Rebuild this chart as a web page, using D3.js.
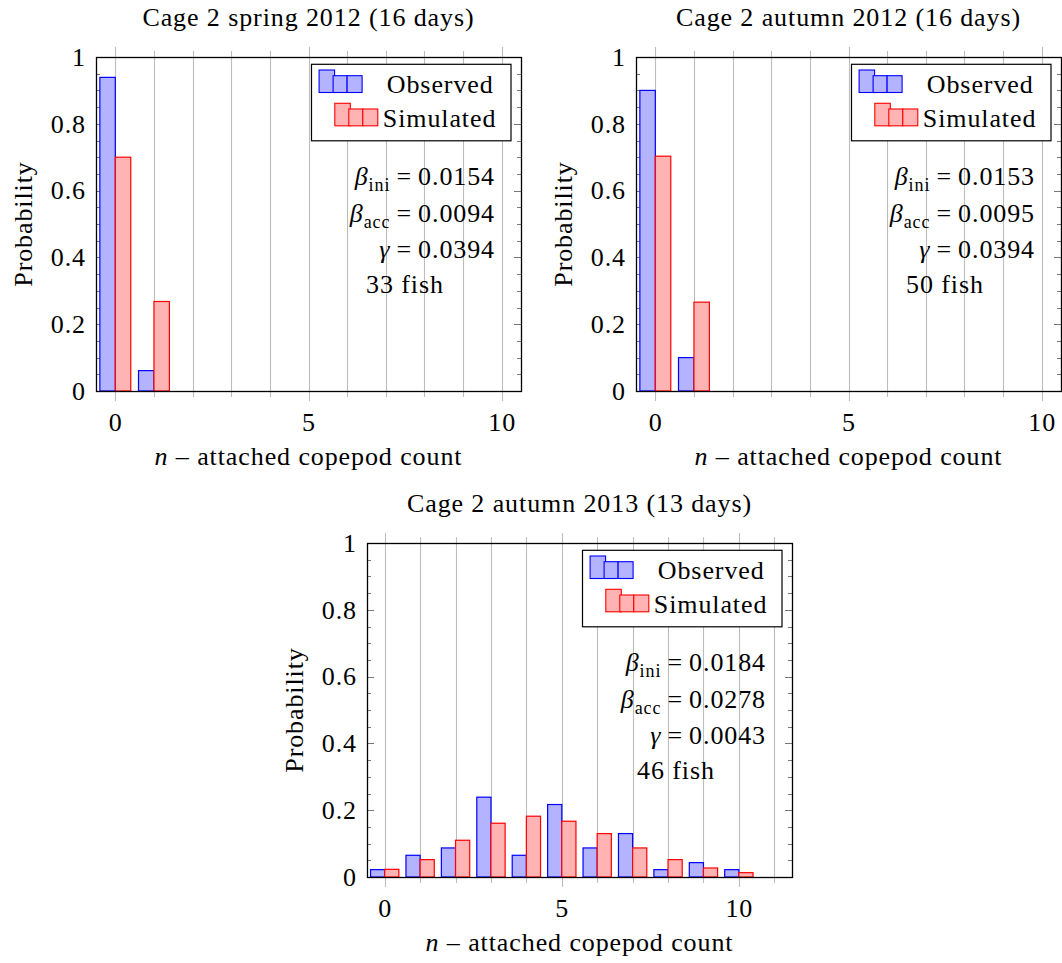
<!DOCTYPE html>
<html><head><meta charset="utf-8">
<script src="https://cdn.jsdelivr.net/npm/d3@7"></script>
<style>
body{margin:0;background:#fff}
text{font-family:"Liberation Serif","Times New Roman",serif;fill:#000;letter-spacing:0.9px}
</style>
</head><body>
<svg id="c" width="1062" height="963"></svg>
<script>
// ---- data ----
const panelTitles = ["Cage 2 spring 2012 (16 days)", "Cage 2 autumn 2012 (16 days)", "Cage 2 autumn 2013 (13 days)"];
const countsA = [0, 1];
const observedA = [0.939, 0.061];
const simulatedA = [0.700, 0.268];
const countsB = [0, 1];
const observedB = [0.900, 0.100];
const simulatedB = [0.703, 0.266];
const countsC = [0, 1, 2, 3, 4, 5, 6, 7, 8, 9, 10];
const observedC = [0.022, 0.065, 0.087, 0.239, 0.065, 0.217, 0.087, 0.130, 0.022, 0.043, 0.022];
const simulatedC = [0.023, 0.052, 0.110, 0.161, 0.182, 0.167, 0.130, 0.087, 0.052, 0.027, 0.013];
const xMaxes = [10, 10, 11];
const betaIni = ["0.0154", "0.0153", "0.0184"];
const betaAcc = ["0.0094", "0.0095", "0.0278"];
const gammaVals = ["0.0394", "0.0394", "0.0043"];
const fishCounts = [33, 50, 46];
const xTickLabels = [0, 5, 10];
const yTickLabels = [0, 0.2, 0.4, 0.6, 0.8, 1];
const seriesNames = ["Observed", "Simulated"];
const xLabel = "attached copepod count";
const yLabel = "Probability";

// ---- layout ----
const W = 425, H = 334, FS = 26;
const panels = [
  {L: 96, T: 57, counts: countsA, obs: observedA, sim: simulatedA},
  {L: 636, T: 57, counts: countsB, obs: observedB, sim: simulatedB},
  {L: 367, T: 543, counts: countsC, obs: observedC, sim: simulatedC}
];
const obsFill = "#b3b3ff", obsStroke = "#0000ff";
const simFill = "#ffb3b3", simStroke = "#ff0000";
const svg = d3.select("#c");

panels.forEach((p, i) => {
  const {L, T} = p;
  const xMax = xMaxes[i];
  const x = d3.scaleLinear().domain([-0.5, xMax + 0.5]).range([L, L + W]);
  const y = d3.scaleLinear().domain([0, 1]).range([T + H, T]);
  const g = svg.append("g");

  // vertical grid + outside x ticks (top & bottom)
  g.selectAll("line.grid").data(d3.range(0, xMax + 1)).join("line")
    .attr("x1", d => Math.round(x(d)) + 0.5).attr("x2", d => Math.round(x(d)) + 0.5)
    .attr("y1", d => T - (d % 5 === 0 ? 10 : 6))
    .attr("y2", d => T + H + (d % 5 === 0 ? 10 : 6))
    .attr("stroke", "#bdbdbd").attr("stroke-width", 1.1);

  // y ticks inside, both sides
  const yt = d3.range(1, 20).map(k => k * 0.05);
  const tlen = v => (Math.abs(v / 0.2 - Math.round(v / 0.2)) < 1e-6 ? 7 : 4);
  g.selectAll("line.yl").data(yt).join("line")
    .attr("x1", L).attr("x2", v => L + tlen(v))
    .attr("y1", v => Math.round(y(v)) + 0.5).attr("y2", v => Math.round(y(v)) + 0.5)
    .attr("stroke", "#777").attr("stroke-width", 1);
  g.selectAll("line.yr").data(yt).join("line")
    .attr("x1", L + W).attr("x2", v => L + W - tlen(v))
    .attr("y1", v => Math.round(y(v)) + 0.5).attr("y2", v => Math.round(y(v)) + 0.5)
    .attr("stroke", "#777").attr("stroke-width", 1);

  // bars
  const bw = 0.4;
  g.selectAll("rect.obs").data(p.counts).join("rect")
    .attr("x", (d) => x(d - bw)).attr("width", d => x(d) - x(d - bw))
    .attr("y", (d, k) => y(p.obs[k])).attr("height", (d, k) => y(0) - y(p.obs[k]))
    .attr("fill", obsFill).attr("stroke", obsStroke).attr("stroke-width", 1.2);
  g.selectAll("rect.sim").data(p.counts).join("rect")
    .attr("x", (d) => x(d)).attr("width", d => x(d + bw) - x(d))
    .attr("y", (d, k) => y(p.sim[k])).attr("height", (d, k) => y(0) - y(p.sim[k]))
    .attr("fill", simFill).attr("stroke", simStroke).attr("stroke-width", 1.2);

  // frame
  g.append("rect").attr("x", L + 0.5).attr("y", T + 0.5).attr("width", W).attr("height", H)
    .attr("fill", "none").attr("stroke", "#000").attr("stroke-width", 1.3);

  // axes labels via d3 axes
  const ax = g.append("g").attr("transform", `translate(0,${T + H})`)
    .call(d3.axisBottom(x).tickValues(xTickLabels).tickSize(0).tickPadding(22).tickFormat(d3.format("d")));
  ax.attr("font-family", null).attr("font-size", null);
  ax.select(".domain").remove();
  ax.selectAll("text").attr("font-size", FS).attr("fill", "#000");
  const ay = g.append("g").attr("transform", `translate(${L},0)`)
    .call(d3.axisLeft(y).tickValues(yTickLabels).tickSize(0).tickPadding(10).tickFormat(d3.format("~g")));
  ay.attr("font-family", null).attr("font-size", null);
  ay.select(".domain").remove();
  ay.selectAll("text").attr("font-size", FS).attr("fill", "#000");

  // title
  g.append("text").attr("x", L + W / 2).attr("y", T - 31).attr("text-anchor", "middle")
    .attr("font-size", FS).text(panelTitles[i]);
  // x label
  const xl = g.append("text").attr("x", L + W / 2).attr("y", T + H + 74).attr("text-anchor", "middle")
    .attr("font-size", FS);
  xl.append("tspan").attr("font-style", "italic").text("n");
  xl.append("tspan").text(" \u2013 " + xLabel);
  // y label
  g.append("text").attr("transform", `translate(${L - 64},${T + H / 2}) rotate(-90)`)
    .attr("text-anchor", "middle").attr("font-size", FS).text(yLabel);

  // legend
  const lx = L + 215.5, ly = T + 7.3;
  const lg = g.append("g");
  lg.append("rect").attr("x", lx).attr("y", ly).attr("width", 199.5).attr("height", 76.5)
    .attr("fill", "#fff").attr("stroke", "#000").attr("stroke-width", 1.2);
  const icon = (ox, oy, fill, stroke) => {
    [[0, 0, 15.5, 22.5], [14, 5.7, 14, 16.8], [28, 5.7, 15, 16.8]].forEach(r => {
      lg.append("rect").attr("x", lx + ox + r[0]).attr("y", ly + oy + r[1]).attr("width", r[2]).attr("height", r[3])
        .attr("fill", fill).attr("stroke", stroke).attr("stroke-width", 1.1);
    });
  };
  icon(7.6, 5.7, obsFill, obsStroke);
  icon(23.3, 39, simFill, simStroke);
  lg.append("text").attr("x", lx + 75.3).attr("y", ly + 29).attr("font-size", FS).text(seriesNames[0]);
  lg.append("text").attr("x", lx + 71.3).attr("y", ly + 62.4).attr("font-size", FS).text(seriesNames[1]);

  // parameters
  const px = L + 399;
  const mathLine = (yy, sym, sub, val) => {
    const t = g.append("text").attr("x", px).attr("y", T + yy).attr("text-anchor", "end").attr("font-size", FS);
    t.append("tspan").attr("font-style", "italic").text(sym);
    if (sub) {
      t.append("tspan").attr("font-size", 18).attr("dy", 6).text(sub);
      t.append("tspan").attr("dy", -6).text("\u2009=\u2009" + val);
    } else {
      t.append("tspan").text("\u2009=\u2009" + val);
    }
  };
  mathLine(128, "\u03B2", "ini", betaIni[i]);
  mathLine(164.7, "\u03B2", "acc", betaAcc[i]);
  mathLine(201.3, "\u03B3", null, gammaVals[i]);
  g.append("text").attr("x", L + 309).attr("y", T + 236.3).attr("text-anchor", "middle")
    .attr("font-size", FS).text(fishCounts[i] + " fish");
});
</script>
</body></html>
